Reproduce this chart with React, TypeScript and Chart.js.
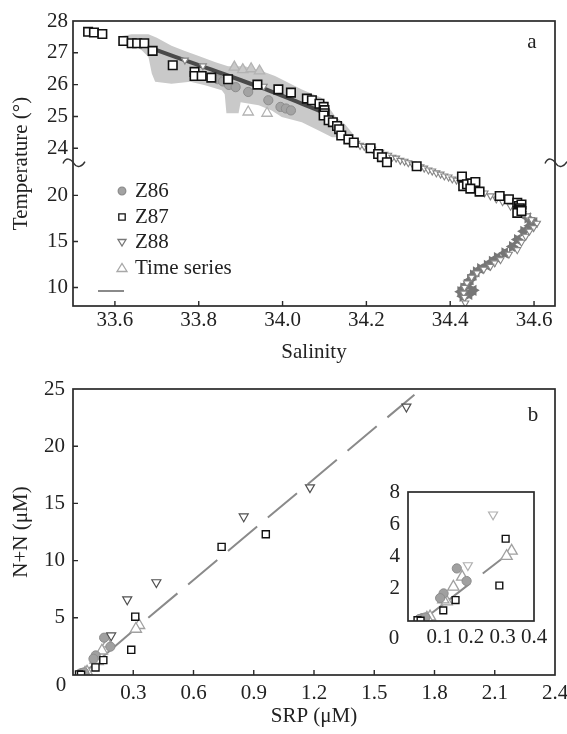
import React, { useEffect, useRef } from 'react';
import { Chart, registerables, LinearScale } from 'chart.js';

Chart.register(...registerables);

// ---------------- Panel a : temperature vs salinity ----------------
const salTicks = [33.6, 33.8, 34.0, 34.2, 34.4, 34.6];
const tempTicks = [10, 15, 20, 24, 25, 26, 27, 28];

const z86Sal = [33.845, 33.858, 33.872, 33.888, 33.918, 33.966, 33.995, 34.008, 34.02];
const z86Temp = [26.17, 26.1, 25.99, 25.92, 25.77, 25.51, 25.3, 25.25, 25.19];

const z87Sal = [33.536, 33.55, 33.57, 33.62, 33.64, 33.653, 33.67, 33.69, 33.738, 33.79, 33.79, 33.807, 33.83, 33.87, 33.94, 33.99, 34.02, 34.058, 34.07, 34.088, 34.098, 34.1, 34.1, 34.098, 34.11, 34.12, 34.13, 34.135, 34.14, 34.157, 34.17, 34.21, 34.228, 34.237, 34.249, 34.32, 34.428, 34.431, 34.44, 34.452, 34.46, 34.448, 34.47, 34.518, 34.54, 34.56, 34.564, 34.57, 34.566, 34.568, 34.56, 34.57];
const z87Temp = [27.66, 27.64, 27.59, 27.37, 27.3, 27.3, 27.3, 27.06, 26.61, 26.4, 26.27, 26.27, 26.22, 26.17, 26.0, 25.85, 25.75, 25.56, 25.51, 25.4, 25.3, 25.2, 25.1, 25.03, 24.88, 24.82, 24.7, 24.6, 24.4, 24.28, 24.18, 24.0, 23.82, 23.72, 23.56, 23.15, 22.05, 21.0, 21.2, 21.3, 21.45, 20.73, 20.4, 19.92, 19.57, 19.2, 18.84, 19.0, 18.6, 18.45, 18.1, 18.3];

const z88Sal = [33.767, 33.81, 33.955, 34.166, 34.176, 34.185, 34.195, 34.205, 34.214, 34.224, 34.233, 34.243, 34.252, 34.262, 34.271, 34.281, 34.291, 34.3, 34.31, 34.319, 34.329, 34.338, 34.348, 34.357, 34.367, 34.377, 34.386, 34.396, 34.405, 34.415, 34.424, 34.438, 34.453, 34.467, 34.482, 34.496, 34.51, 34.525, 34.544, 34.558, 34.573, 34.584, 34.594, 34.607, 34.599, 34.589, 34.58, 34.57, 34.56, 34.54, 34.52, 34.506, 34.496, 34.48, 34.464, 34.451, 34.44, 34.434, 34.432, 34.434, 34.436];
const z88Temp = [26.77, 26.59, 25.95, 24.21, 24.16, 24.09, 24.06, 24.0, 23.97, 23.9, 23.87, 23.81, 23.78, 23.72, 23.69, 23.62, 23.59, 23.53, 23.4, 23.28, 23.08, 22.95, 22.75, 22.63, 22.43, 22.3, 22.1, 21.98, 21.77, 21.65, 21.4, 21.16, 20.85, 20.62, 20.25, 19.94, 19.6, 19.31, 18.82, 18.5, 18.02, 17.77, 17.37, 16.98, 16.5, 16.11, 15.56, 14.91, 14.11, 13.61, 13.02, 12.68, 12.3, 11.98, 11.58, 11.11, 10.49, 10.02, 9.4, 8.93, 8.32];

const z88DeepSal = [34.585, 34.6, 34.59, 34.575, 34.56, 34.548, 34.53, 34.512, 34.5, 34.488, 34.472, 34.462, 34.455, 34.448, 34.44, 34.432, 34.425, 34.445, 34.43, 34.455];
const z88DeepTemp = [17.55, 17.05, 16.7, 16.1, 15.2, 14.45, 13.75, 13.25, 12.85, 12.4, 12.05, 11.7, 11.35, 10.85, 10.35, 9.95, 9.55, 9.25, 9.05, 9.7];

const seriesSal = [33.918, 33.963, 33.885, 33.905, 33.925, 33.945];
const seriesTemp = [25.14, 25.1, 26.55, 26.47, 26.5, 26.43];

const cloudUpperSal = [33.612, 33.64, 33.68, 33.7, 33.735, 33.767, 33.8, 33.84, 33.87, 33.91, 33.95, 33.982, 34.046, 34.094, 34.126, 34.15, 34.17];
const cloudUpperTemp = [27.52, 27.58, 27.58, 27.47, 27.22, 27.06, 26.9, 26.7, 26.58, 26.58, 26.43, 26.27, 25.85, 25.58, 25.0, 24.74, 24.42];
const cloudLowerSal = [33.612, 33.664, 33.68, 33.688, 33.696, 33.735, 33.78, 33.815, 33.855, 33.862, 33.866, 33.895, 33.9, 33.943, 33.974, 33.998, 34.046, 34.086, 34.118, 34.15, 34.17];
const cloudLowerTemp = [27.5, 27.08, 26.87, 26.35, 26.09, 26.03, 26.09, 25.98, 25.82, 25.7, 25.1, 25.1, 25.45, 25.35, 25.19, 24.98, 24.82, 24.56, 24.35, 24.35, 24.42];

const meanLineSal = [33.688, 33.8, 33.94, 34.1];
const meanLineTemp = [27.14, 26.61, 25.95, 25.12];

// ---------------- Panel b : N+N vs SRP ----------------
const srpTicks = [0, 0.3, 0.6, 0.9, 1.2, 1.5, 1.8, 2.1, 2.4];
const nnTicks = [0, 5, 10, 15, 20, 25];
const insetSrpTicks = [0, 0.1, 0.2, 0.3, 0.4];
const insetNnTicks = [0, 2, 4, 6, 8];

const bZ86Srp = [0.155, 0.186, 0.113, 0.102, 0.045, 0.036, 0.055];
const bZ86NN = [3.26, 2.48, 1.71, 1.42, 0.18, 0.12, 0.22];
const bZ87Srp = [0.31, 0.29, 0.74, 0.96, 0.151, 0.112, 0.03, 0.04];
const bZ87NN = [5.1, 2.2, 11.2, 12.3, 1.3, 0.66, 0.05, 0.02];
const bZ88Srp = [0.27, 0.415, 0.85, 1.18, 1.66, 0.19];
const bZ88NN = [6.6, 8.1, 13.85, 16.4, 23.45, 3.45];
const bSeriesSrp = [0.329, 0.313, 0.172, 0.144, 0.123, 0.112, 0.07, 0.06];
const bSeriesNN = [4.35, 4.02, 2.74, 2.12, 1.2, 1.32, 0.27, 0.2];

const lowFitSrp = [0.044, 0.334];
const lowFitNN = [0.02, 4.4];
const highFitSrp = [0.375, 1.7];
const highFitNN = [5.0, 24.5];

// ---------------- styling ----------------
const FONT = "'Liberation Serif', 'Times New Roman', serif";
const TXT = '#222';
const AXIS = '#2a2a2a';
const CLOUD = '#c9c9c9';
const font21 = { family: FONT, size: 21 };

const BREAK_T = 23.55;
const STRETCH = 3.45;
const toU = (t: number) => (t <= BREAK_T ? t : BREAK_T + (t - BREAK_T) * STRETCH);
const fromU = (u: number) => (u <= BREAK_T ? u : BREAK_T + (u - BREAK_T) / STRETCH);

class BrokenLinearScale extends (LinearScale as any) {
  static id = 'brokenLinear';
  getPixelForValue(value: number) {
    if (value === null || value === undefined || isNaN(value)) return NaN;
    const u0 = toU(this.min), u1 = toU(this.max);
    return this.getPixelForDecimal((toU(value) - u0) / (u1 - u0));
  }
  getValueForPixel(pixel: number) {
    const u0 = toU(this.min), u1 = toU(this.max);
    return fromU(u0 + this.getDecimalForPixel(pixel) * (u1 - u0));
  }
}
Chart.register(BrokenLinearScale as any);

const pts = (xs: number[], ys: number[]) => xs.map((x, i) => ({ x, y: ys[i] }));
const inBox = (xs: number[], ys: number[], mx: number, my: number) =>
  pts(xs, ys).filter((p) => p.x <= mx && p.y <= my);

function axisCfg(o: any) {
  return {
    type: o.type || 'linear',
    min: o.min,
    max: o.max,
    afterBuildTicks: (s: any) => {
      s.ticks = o.ticks.map((v: number) => ({ value: v }));
    },
    afterFit: (s: any) => {
      if (o.height !== undefined) s.height = o.height;
      if (o.width !== undefined) s.width = o.width;
      s.paddingLeft = 0;
      s.paddingRight = 0;
      s.paddingTop = 0;
      s.paddingBottom = 0;
    },
    grid: { display: false, drawTicks: false },
    border: { display: false },
    ticks: {
      autoSkip: false,
      maxRotation: 0,
      padding: o.padding,
      color: TXT,
      font: font21,
      callback: o.format,
    },
    title: o.title
      ? { display: true, text: o.title, color: TXT, font: font21, padding: o.titlePadding }
      : { display: false },
  };
}

function squiggle(ctx: CanvasRenderingContext2D, x: number, y: number) {
  ctx.beginPath();
  ctx.moveTo(x - 10, y + 1);
  ctx.bezierCurveTo(x - 7, y - 6, x - 2, y - 4, x + 1, y + 1);
  ctx.bezierCurveTo(x + 4, y + 6, x + 9, y + 4, x + 12, y - 1);
  ctx.stroke();
}

function decorPlugin(cfg: any) {
  return {
    id: 'decor',
    beforeDraw(chart: any) {
      const { ctx, chartArea: a } = chart;
      ctx.save();
      ctx.fillStyle = '#fff';
      ctx.fillRect(a.left, a.top, a.right - a.left, a.bottom - a.top);
      ctx.restore();
    },
    afterDraw(chart: any) {
      const { ctx, chartArea: a, scales } = chart;
      ctx.save();
      ctx.strokeStyle = AXIS;
      ctx.lineWidth = 1.7;
      ctx.strokeRect(a.left, a.top, a.right - a.left, a.bottom - a.top);
      if (cfg.tickLen) {
        ctx.lineWidth = 1.4;
        ctx.beginPath();
        for (const t of scales.x.ticks) {
          const px = scales.x.getPixelForValue(t.value);
          if (px <= a.left + 1 || px >= a.right - 1) continue;
          ctx.moveTo(px, a.bottom);
          ctx.lineTo(px, a.bottom - cfg.tickLen);
        }
        for (const t of scales.y.ticks) {
          const py = scales.y.getPixelForValue(t.value);
          if (py <= a.top + 1 || py >= a.bottom - 1) continue;
          ctx.moveTo(a.left, py);
          ctx.lineTo(a.left + cfg.tickLen, py);
        }
        ctx.stroke();
      }
      if (cfg.breakAt !== undefined) {
        const py = scales.y.getPixelForValue(cfg.breakAt);
        ctx.lineWidth = 1.4;
        ctx.strokeStyle = '#333';
        squiggle(ctx, a.left, py);
        squiggle(ctx, a.right, py);
      }
      ctx.fillStyle = TXT;
      ctx.font = `21px ${FONT}`;
      ctx.textBaseline = 'middle';
      ctx.textAlign = 'center';
      if (cfg.letter) ctx.fillText(cfg.letter.text, cfg.letter.x, cfg.letter.y);
      if (cfg.corner) ctx.fillText('0', cfg.corner.x, cfg.corner.y);
      if (cfg.legend) {
        const lx = 122;
        const tx = 135;
        const items = [
          { label: 'Z86', kind: 'circle', y: 191 },
          { label: 'Z87', kind: 'rect', y: 217 },
          { label: 'Z88', kind: 'down', y: 242 },
          { label: 'Time series', kind: 'up', y: 268 },
          { label: '', kind: 'line', y: 291 },
        ];
        for (const it of items) {
          ctx.lineWidth = 1.3;
          ctx.beginPath();
          if (it.kind === 'circle') {
            ctx.arc(lx, it.y, 3.8, 0, Math.PI * 2);
            ctx.fillStyle = '#a3a3a3';
            ctx.fill();
            ctx.strokeStyle = '#8d8d8d';
            ctx.stroke();
          } else if (it.kind === 'rect') {
            ctx.rect(lx - 3.2, it.y - 3.2, 6.4, 6.4);
            ctx.strokeStyle = '#111';
            ctx.stroke();
          } else if (it.kind === 'down') {
            ctx.moveTo(lx - 4, it.y - 2.5);
            ctx.lineTo(lx + 4, it.y - 2.5);
            ctx.lineTo(lx, it.y + 4);
            ctx.closePath();
            ctx.strokeStyle = '#777';
            ctx.stroke();
          } else if (it.kind === 'up') {
            ctx.moveTo(lx - 5, it.y + 3.5);
            ctx.lineTo(lx + 5, it.y + 3.5);
            ctx.lineTo(lx, it.y - 4.5);
            ctx.closePath();
            ctx.strokeStyle = '#a8a8a8';
            ctx.stroke();
          } else {
            ctx.moveTo(98, it.y);
            ctx.lineTo(124, it.y);
            ctx.strokeStyle = '#8a8a8a';
            ctx.lineWidth = 2;
            ctx.stroke();
          }
          if (it.label) {
            ctx.fillStyle = TXT;
            ctx.textAlign = 'left';
            ctx.fillText(it.label, tx, it.y);
          }
        }
      }
      ctx.restore();
    },
  };
}

const baseOptions = {
  responsive: false,
  animation: false as const,
  devicePixelRatio: 1,
  events: [] as any[],
  plugins: { legend: { display: false }, tooltip: { enabled: false } },
};

function topConfig(): any {
  return {
    type: 'scatter',
    data: {
      datasets: [
        { label: 'Z87', order: 0, data: pts(z87Sal, z87Temp), pointStyle: 'rect', pointRadius: 6, borderColor: '#111', backgroundColor: '#fff', borderWidth: 1.6 },
        { label: 'Z88', order: 1, data: pts(z88Sal, z88Temp), pointStyle: 'triangle', rotation: 180, pointRadius: 4, borderColor: '#858585', backgroundColor: '#fff', borderWidth: 1.1 },
        { label: 'Z88 deep R', order: 2, data: pts(z88DeepSal, z88DeepTemp), pointStyle: 'triangle', rotation: 90, pointRadius: 6.5, borderWidth: 0, backgroundColor: '#767676' },
        { label: 'Z88 deep L', order: 2, data: pts(z88DeepSal, z88DeepTemp), pointStyle: 'triangle', rotation: 270, pointRadius: 6.5, borderWidth: 0, backgroundColor: '#767676' },
        { label: 'Mean', type: 'line', order: 3, data: pts(meanLineSal, meanLineTemp), borderColor: '#4a4a4a', borderWidth: 4, pointRadius: 0, fill: false, tension: 0.3 },
        { label: 'Z86', order: 4, data: pts(z86Sal, z86Temp), pointStyle: 'circle', pointRadius: 4.6, borderColor: '#8d8d8d', backgroundColor: '#a3a3a3', borderWidth: 1 },
        { label: 'Time series', order: 5, data: pts(seriesSal, seriesTemp), pointStyle: 'triangle', pointRadius: 6, borderColor: '#b3b3b3', backgroundColor: ['#fff', '#fff', CLOUD, CLOUD, CLOUD, CLOUD], borderWidth: 1.3 },
        { label: 'Time series lower', type: 'line', order: 6, data: pts(cloudLowerSal, cloudLowerTemp), borderWidth: 0, borderColor: CLOUD, backgroundColor: CLOUD, pointRadius: 0, fill: 8, tension: 0 },
        { label: 'Time series upper', type: 'line', order: 7, data: pts(cloudUpperSal, cloudUpperTemp), borderWidth: 0, borderColor: CLOUD, backgroundColor: CLOUD, pointRadius: 0, fill: false, tension: 0 },
      ],
    },
    options: {
      ...baseOptions,
      layout: { padding: { top: 21, right: 12, left: 0, bottom: 0 } },
      scales: {
        x: axisCfg({ min: 33.5, max: 34.65, ticks: salTicks, height: 64, padding: 2, format: (v: any) => Number(v).toFixed(1), title: 'Salinity', titlePadding: { top: 0, bottom: 5 } }),
        y: axisCfg({ type: 'brokenLinear', min: 8, max: 28, ticks: tempTicks, width: 73, padding: 5, format: (v: any) => String(v), title: 'Temperature (°)', titlePadding: { top: 9, bottom: 0 } }),
      },
    },
    plugins: [decorPlugin({ tickLen: 5, breakAt: 23.55, letter: { text: 'a', x: 532, y: 42 }, legend: true })],
  };
}

function panelBDatasets(inset: boolean): any[] {
  const f = (xs: number[], ys: number[]) => (inset ? inBox(xs, ys, 0.4, 8) : pts(xs, ys));
  const ds: any[] = [
    { label: 'Z87', order: 0, data: f(bZ87Srp, bZ87NN), pointStyle: 'rect', pointRadius: inset ? 4.8 : 5, borderColor: '#111', backgroundColor: '#fff', borderWidth: 1.4 },
    { label: 'Z88', order: 1, data: f(bZ88Srp, bZ88NN), pointStyle: 'triangle', rotation: 180, pointRadius: 5.2, borderColor: inset ? '#b0b0b0' : '#505050', backgroundColor: '#fff', borderWidth: 1.2 },
    { label: 'Z86', order: 2, data: f(bZ86Srp, bZ86NN), pointStyle: 'circle', pointRadius: 4.6, borderColor: '#8d8d8d', backgroundColor: '#a0a0a0', borderWidth: 1 },
    { label: 'Time series', order: 3, data: f(bSeriesSrp, bSeriesNN), pointStyle: 'triangle', pointRadius: 6.5, borderColor: '#a0a0a0', backgroundColor: '#fff', borderWidth: 1.3 },
  ];
  if (inset) {
    ds.push({ label: 'Fit', type: 'line', order: 4, data: pts(lowFitSrp, lowFitNN), borderColor: '#8a8a8a', borderWidth: 2, borderDash: [61, 16], pointRadius: 0, fill: false });
  } else {
    ds.push({ label: 'Fit low', type: 'line', order: 4, data: pts(lowFitSrp, lowFitNN), borderColor: '#8a8a8a', borderWidth: 2, pointRadius: 0, fill: false });
    ds.push({ label: 'Fit', type: 'line', order: 5, data: pts(highFitSrp, highFitNN), borderColor: '#8a8a8a', borderWidth: 2, borderDash: [38, 14], pointRadius: 0, fill: false });
  }
  return ds;
}

function bottomConfig(): any {
  const blank0 = (v: any) => (Number(v) === 0 ? '' : String(v));
  return {
    type: 'scatter',
    data: { datasets: panelBDatasets(false) },
    options: {
      ...baseOptions,
      layout: { padding: { top: 19, right: 12, left: 0, bottom: 0 } },
      scales: {
        x: axisCfg({ min: 0, max: 2.4, ticks: srpTicks, height: 59, padding: 6, format: (v: any) => (Number(v) === 0 ? '' : Number(v).toFixed(1)), title: 'SRP (μM)', titlePadding: { top: 0, bottom: 5 } }),
        y: axisCfg({ min: 0, max: 25, ticks: nnTicks, width: 73, padding: 8, format: blank0, title: 'N+N (μM)', titlePadding: { top: 9, bottom: 0 } }),
      },
    },
    plugins: [decorPlugin({ tickLen: 5, letter: { text: 'b', x: 533, y: 45 }, corner: { x: 61, y: 315 } })],
  };
}

function insetConfig(): any {
  return {
    type: 'scatter',
    data: { datasets: panelBDatasets(true) },
    options: {
      ...baseOptions,
      layout: { padding: { top: 14, right: 16, left: 0, bottom: 0 } },
      scales: {
        x: axisCfg({ min: 0, max: 0.4, ticks: insetSrpTicks, height: 32, padding: 4, format: (v: any) => (Number(v) === 0 ? '' : Number(v).toFixed(1)) }),
        y: axisCfg({ min: 0, max: 8, ticks: insetNnTicks, width: 38, padding: 8, format: (v: any) => (Number(v) === 0 ? '' : String(v)) }),
      },
    },
    plugins: [decorPlugin({ tickLen: 0, corner: { x: 24, y: 160 } })],
  };
}

export default function App() {
  const topRef = useRef<HTMLCanvasElement>(null);
  const botRef = useRef<HTMLCanvasElement>(null);
  const insetRef = useRef<HTMLCanvasElement>(null);

  useEffect(() => {
    const charts: Chart[] = [];
    if (topRef.current) charts.push(new Chart(topRef.current, topConfig()));
    if (botRef.current) charts.push(new Chart(botRef.current, bottomConfig()));
    if (insetRef.current) charts.push(new Chart(insetRef.current, insetConfig()));
    return () => charts.forEach((c) => c.destroy());
  }, []);

  return (
    <div style={{ position: 'absolute', left: 0, top: 0, width: 567, height: 734, background: '#fff', overflow: 'hidden' }}>
      <canvas ref={topRef} width={567} height={370} style={{ position: 'absolute', left: 0, top: 0 }} />
      <canvas ref={botRef} width={567} height={364} style={{ position: 'absolute', left: 0, top: 370 }} />
      <canvas ref={insetRef} width={180} height={175} style={{ position: 'absolute', left: 370, top: 478 }} />
    </div>
  );
}
